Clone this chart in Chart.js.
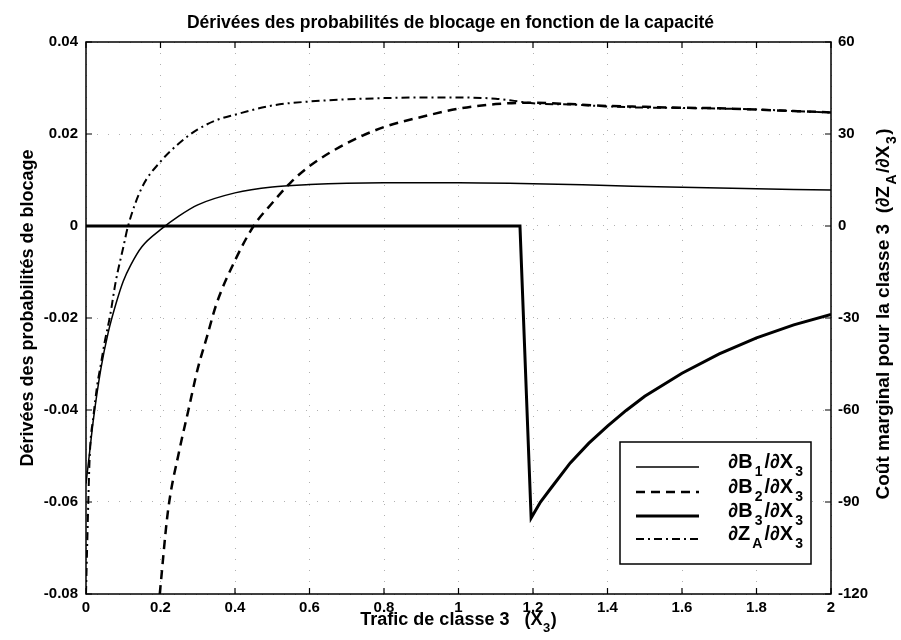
<!DOCTYPE html>
<html>
<head>
<meta charset="utf-8">
<script src="https://cdn.jsdelivr.net/npm/chart.js@4/dist/chart.umd.min.js"></script>
<style>
html,body{margin:0;padding:0;background:#fff;}
#wrap{width:901px;height:640px;position:relative;}
</style>
</head>
<body>
<div id="wrap"><canvas id="c" width="901" height="640"></canvas></div>
<script>
// ---- data ----
const xB1 = [0,0.01,0.02,0.04,0.06,0.08,0.1,0.12,0.15,0.2,0.25,0.3,0.4,0.5,0.6,0.7,0.8,1.0,1.2,1.4,1.6,1.8,2.0];
const yB1 = [-0.056,-0.049,-0.042,-0.031,-0.023,-0.017,-0.012,-0.0085,-0.0045,-0.0008,0.0022,0.0046,0.0072,0.0085,0.009,0.0093,0.0094,0.0094,0.0092,0.0088,0.0084,0.0081,0.0078];

const xB2 = [0.198,0.22,0.25,0.275,0.3,0.325,0.35,0.4,0.45,0.5,0.55,0.6,0.7,0.8,0.9,1.0,1.1,1.2,1.3,1.4,1.5,1.6,1.7,1.8,1.9,2.0];
const yB2 = [-0.08,-0.062,-0.049,-0.040,-0.031,-0.024,-0.017,-0.0075,0,0.005,0.0095,0.013,0.018,0.0215,0.0237,0.0255,0.0265,0.0268,0.0265,0.0261,0.0259,0.0257,0.0256,0.0253,0.025,0.0247];

const xB3 = [0,1.165,1.195,1.22,1.25,1.3,1.35,1.4,1.45,1.5,1.6,1.7,1.8,1.9,2.0];
const yB3 = [0,0,-0.0635,-0.0600,-0.0568,-0.0515,-0.0472,-0.0435,-0.0401,-0.037,-0.032,-0.0278,-0.0243,-0.0215,-0.0192];

const xZA = [0,0.003,0.01,0.02,0.03,0.04,0.05,0.065,0.08,0.1,0.113,0.15,0.2,0.25,0.3,0.35,0.4,0.5,0.6,0.7,0.8,0.9,1.0,1.1,1.15,1.2,1.3,1.4,1.5,1.6,1.7,1.8,1.9,2.0];
const yZA = [-120,-105,-75,-62,-52,-45,-38,-29,-18,-7,0,12.5,21,27,31.5,34.5,36.3,39.3,40.6,41.3,41.7,41.9,41.9,41.5,40.8,40.0,39.6,39.0,38.6,38.5,38.3,38.0,37.5,37.0];

const xTicks = [0,0.2,0.4,0.6,0.8,1,1.2,1.4,1.6,1.8,2];
const xTickLabels = ['0','0.2','0.4','0.6','0.8','1','1.2','1.4','1.6','1.8','2'];
const yTicks = [-0.08,-0.06,-0.04,-0.02,0,0.02,0.04];
const yTickLabels = ['-0.08','-0.06','-0.04','-0.02','0','0.02','0.04'];
const y2Ticks = [-120,-90,-60,-30,0,30,60];
const y2TickLabels = ['-120','-90','-60','-30','0','30','60'];

const titleText = 'Dérivées des probabilités de blocage en fonction de la capacité';
const xTitle = [['Trafic de classe 3   (X'],['3',1],[')']];
const yTitle = [['Dérivées des probabilités de blocage']];
const y2Title = [['Coût marginal pour la classe 3  (∂Z'],['A',1],['/∂X'],['3',1],[')']];
const legendLabels = [
  [['∂B'],['1',1],['/∂X'],['3',1]],
  [['∂B'],['2',1],['/∂X'],['3',1]],
  [['∂B'],['3',1],['/∂X'],['3',1]],
  [['∂Z'],['A',1],['/∂X'],['3',1]]
];

// ---- chart ----
const FONT = '"Liberation Sans", Arial, Helvetica, sans-serif';
Chart.defaults.font.family = FONT;
Chart.defaults.color = '#000';

const pts = (xs, ys) => xs.map((x,i)=>({x:x, y:ys[i]}));

const styles = [
  {borderWidth:1.5, borderDash:[]},
  {borderWidth:2.5, borderDash:[9,6]},
  {borderWidth:3, borderDash:[]},
  {borderWidth:2, borderDash:[8,4,2,4]}
];

function drawRich(ctx, parts, x, y, align, size, weight, extra) {
  const wt = weight ? weight + ' ' : '';
  const ex = extra || 0;
  const nf = wt + size + 'px ' + FONT, sf = wt + Math.round(size*0.72) + 'px ' + FONT;
  let w = 0;
  const ws = parts.map(p => { ctx.font = p[1] ? sf : nf; const m = ctx.measureText(p[0]).width + (p[1] ? 1 + ex : 0); w += m; return m; });
  let cx = align === 'right' ? x - w : (align === 'center' ? x - w/2 : x);
  ctx.textAlign = 'left';
  ctx.textBaseline = 'alphabetic';
  parts.forEach((p,i) => {
    ctx.font = p[1] ? sf : nf;
    ctx.fillText(p[0], cx + (p[1] ? 0.5 + ex/2 : 0), p[1] ? y + size*0.38 : y);
    cx += ws[i];
  });
}

const framePlugin = {
  id: 'frame',
  afterDatasetsDraw(chart) {
    const ctx = chart.ctx, a = chart.chartArea;
    const sx = chart.scales.x, sy = chart.scales.y;
    ctx.save();
    ctx.strokeStyle = '#000';
    ctx.lineWidth = 1.5;
    ctx.strokeRect(a.left, a.top, a.right - a.left, a.bottom - a.top);
    ctx.lineWidth = 1.2;
    ctx.beginPath();
    xTicks.forEach(v => {
      const px = sx.getPixelForValue(v);
      ctx.moveTo(px, a.bottom); ctx.lineTo(px, a.bottom - 6);
      ctx.moveTo(px, a.top); ctx.lineTo(px, a.top + 6);
    });
    yTicks.forEach(v => {
      const py = sy.getPixelForValue(v);
      ctx.moveTo(a.left, py); ctx.lineTo(a.left + 6, py);
      ctx.moveTo(a.right, py); ctx.lineTo(a.right - 6, py);
    });
    ctx.stroke();

    // legend
    const L = {x1:620, y1:442, x2:811, y2:564};
    ctx.fillStyle = '#fff';
    ctx.fillRect(L.x1, L.y1, L.x2-L.x1, L.y2-L.y1);
    ctx.lineWidth = 1.5;
    ctx.strokeRect(L.x1, L.y1, L.x2-L.x1, L.y2-L.y1);
    const rows = [467, 492, 516, 539];
    chart.data.datasets.forEach((ds, i) => {
      ctx.save();
      ctx.lineWidth = ds.borderWidth;
      ctx.setLineDash(ds.borderDash || []);
      ctx.beginPath();
      ctx.moveTo(636, rows[i]); ctx.lineTo(699, rows[i]);
      ctx.stroke();
      ctx.restore();
      ctx.fillStyle = '#000';
      drawRich(ctx, legendLabels[i], 805, rows[i] + 1, 'right', 20, 'bold', 3);
    });

    // axis titles
    ctx.fillStyle = '#000';
    drawRich(ctx, xTitle, (a.left + a.right)/2, 625, 'center', 18, 'bold');
    ctx.save();
    ctx.translate(33, (a.top + a.bottom)/2 - 10);
    ctx.rotate(-Math.PI/2);
    drawRich(ctx, yTitle, 0, 0, 'center', 18, 'bold');
    ctx.restore();
    ctx.save();
    ctx.translate(889, (a.top + a.bottom)/2 - 4);
    ctx.rotate(-Math.PI/2);
    drawRich(ctx, y2Title, 0, 0, 'center', 19, 'bold', 2);
    ctx.restore();
    ctx.restore();
  }
};

const mkTicks = (vals) => (axis) => { axis.ticks = vals.map(v => ({value: v})); };
const tickFont = {size:15, weight:'bold'};

new Chart(document.getElementById('c'), {
  type: 'line',
  data: {
    datasets: [
      {label:'dB1', data: pts(xB1,yB1), yAxisID:'y', cubicInterpolationMode:'monotone'},
      {label:'dB2', data: pts(xB2,yB2), yAxisID:'y', cubicInterpolationMode:'monotone'},
      {label:'dB3', data: pts(xB3,yB3), yAxisID:'y', tension:0},
      {label:'dZA', data: pts(xZA,yZA), yAxisID:'y2', cubicInterpolationMode:'monotone'}
    ].map((d,i) => Object.assign(d, styles[i], {borderColor:'#000', pointRadius:0, fill:false, borderCapStyle:'butt'}))
  },
  plugins: [framePlugin],
  options: {
    responsive: false,
    animation: false,
    layout: {padding: 0},
    plugins: {
      legend: {display:false},
      tooltip: {enabled:false},
      title: {display:true, text:titleText, font:{size:17.5, weight:'bold'}, color:'#000', padding:{top:13, bottom:8}}
    },
    scales: {
      x: {
        type:'linear', min:0, max:2, position:'bottom',
        afterBuildTicks: mkTicks(xTicks),
        afterFit: (s) => { s.height = 46; },
        ticks: {callback: (v,i) => xTickLabels[i], font:tickFont, padding:5, maxRotation:0, autoSkip:false, color:'#000'},
        grid: {drawTicks:false, color:'#b0b0b0', lineWidth:1},
        border: {display:false, dash:[1,10]}
      },
      y: {
        type:'linear', min:-0.08, max:0.04, position:'left',
        afterBuildTicks: mkTicks(yTicks),
        afterFit: (s) => { s.width = 86; },
        ticks: {callback: (v,i) => yTickLabels[i], font:tickFont, padding:8, autoSkip:false, color:'#000'},
        grid: {drawTicks:false, color:'#b0b0b0', lineWidth:1},
        border: {display:false, dash:[1,10]}
      },
      y2: {
        type:'linear', min:-120, max:60, position:'right',
        afterBuildTicks: mkTicks(y2Ticks),
        afterFit: (s) => { s.width = 70; },
        ticks: {callback: (v,i) => y2TickLabels[i], font:tickFont, padding:7, autoSkip:false, color:'#000'},
        grid: {drawTicks:false, drawOnChartArea:false},
        border: {display:false}
      }
    }
  }
});
</script>
</body>
</html>
